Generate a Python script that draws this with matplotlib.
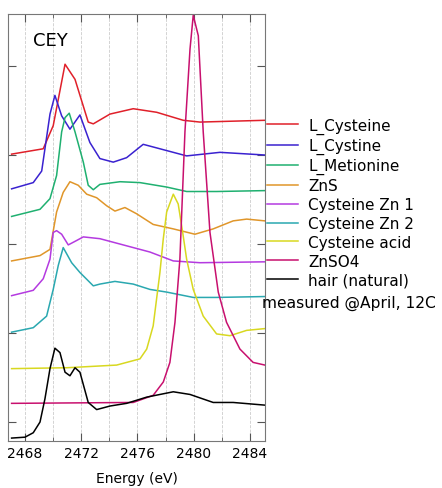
import matplotlib
matplotlib.use("Agg")
import matplotlib.pyplot as plt
from matplotlib.ticker import MultipleLocator

plt.rcParams['font.family'] = ['DejaVu Sans']

# energies (eV) and offset intensities
cys_e = [2467.05, 2469.30, 2470.01, 2470.85, 2471.56, 2472.50, 2472.86, 2474.05, 2475.70, 2477.37, 2479.26, 2480.45, 2485.07]
cys_y = [3.01, 3.07, 3.33, 4.02, 3.85, 3.37, 3.35, 3.46, 3.52, 3.48, 3.39, 3.37, 3.39]

cyst_e = [2467.05, 2468.59, 2469.19, 2469.78, 2470.13, 2470.61, 2471.20, 2471.91, 2472.62, 2473.33, 2474.28, 2475.23, 2476.41, 2477.60, 2479.50, 2481.87, 2485.07]
cyst_y = [2.62, 2.69, 2.82, 3.46, 3.67, 3.44, 3.29, 3.45, 3.14, 2.96, 2.92, 2.97, 3.12, 3.07, 2.99, 3.03, 3.00]

met_e = [2467.05, 2469.07, 2469.78, 2470.25, 2470.61, 2470.85, 2471.15, 2471.56, 2472.15, 2472.50, 2472.86, 2473.33, 2474.76, 2476.18, 2478.08, 2479.50, 2481.63, 2485.07]
met_y = [2.31, 2.39, 2.51, 2.77, 3.26, 3.42, 3.47, 3.26, 2.92, 2.66, 2.61, 2.67, 2.70, 2.69, 2.64, 2.59, 2.59, 2.60]

zns_e = [2467.05, 2469.07, 2469.78, 2470.25, 2470.72, 2471.20, 2471.79, 2472.39, 2473.10, 2473.81, 2474.40, 2475.11, 2475.94, 2477.12, 2478.55, 2480.09, 2481.39, 2482.81, 2483.77, 2485.07]
zns_y = [1.81, 1.87, 1.94, 2.36, 2.58, 2.70, 2.66, 2.56, 2.52, 2.43, 2.37, 2.41, 2.34, 2.22, 2.17, 2.11, 2.17, 2.26, 2.28, 2.26]

zn1_e = [2467.05, 2468.59, 2469.30, 2469.78, 2470.01, 2470.25, 2470.61, 2471.08, 2471.68, 2472.15, 2473.33, 2475.70, 2476.89, 2478.55, 2480.45, 2485.07]
zn1_y = [1.42, 1.48, 1.61, 1.83, 2.13, 2.15, 2.11, 1.99, 2.04, 2.08, 2.06, 1.96, 1.91, 1.81, 1.79, 1.80]

zn2_e = [2467.05, 2468.59, 2469.54, 2470.01, 2470.37, 2470.72, 2471.32, 2471.91, 2472.86, 2473.33, 2474.40, 2475.70, 2476.89, 2478.08, 2479.97, 2481.63, 2485.07]
zn2_y = [1.01, 1.06, 1.19, 1.49, 1.76, 1.96, 1.79, 1.68, 1.53, 1.55, 1.58, 1.55, 1.49, 1.46, 1.40, 1.40, 1.41]

acid_e = [2467.05, 2470.97, 2474.52, 2476.18, 2476.66, 2477.12, 2477.60, 2477.84, 2478.08, 2478.55, 2478.90, 2479.22, 2479.50, 2479.97, 2480.68, 2481.63, 2482.58, 2483.77, 2485.07]
acid_y = [0.60, 0.61, 0.64, 0.71, 0.82, 1.08, 1.68, 2.06, 2.36, 2.56, 2.45, 2.13, 1.83, 1.49, 1.19, 0.99, 0.97, 1.03, 1.05]

znso4_e = [2467.05, 2475.70, 2477.12, 2477.84, 2478.31, 2478.67, 2479.02, 2479.38, 2479.74, 2479.97, 2480.33, 2480.68, 2481.16, 2481.75, 2482.34, 2483.29, 2484.23, 2485.07]
znso4_y = [0.21, 0.22, 0.30, 0.45, 0.67, 1.12, 1.83, 3.26, 4.19, 4.57, 4.34, 3.26, 2.13, 1.46, 1.12, 0.82, 0.67, 0.64]

hair_e = [2467.05, 2468.00, 2468.59, 2469.07, 2469.42, 2469.78, 2470.13, 2470.49, 2470.85, 2471.20, 2471.56, 2471.91, 2472.50, 2473.10, 2474.05, 2475.23, 2476.66, 2478.55, 2479.74, 2481.39, 2482.81, 2485.07]
hair_y = [-0.18, -0.17, -0.12, 0.00, 0.26, 0.60, 0.83, 0.78, 0.56, 0.52, 0.61, 0.56, 0.22, 0.14, 0.18, 0.21, 0.28, 0.34, 0.31, 0.22, 0.22, 0.19]

series = [
    ('L_Cysteine', cys_e, cys_y, '#e0202a'),
    ('L_Cystine', cyst_e, cyst_y, '#3a22d0'),
    ('L_Metionine', met_e, met_y, '#1fb070'),
    ('ZnS', zns_e, zns_y, '#e0962a'),
    ('Cysteine Zn 1', zn1_e, zn1_y, '#b43ae0'),
    ('Cysteine Zn 2', zn2_e, zn2_y, '#2aa8b0'),
    ('Cysteine acid', acid_e, acid_y, '#d8d820'),
    ('ZnSO4', znso4_e, znso4_y, '#c8106e'),
    ('hair (natural)', hair_e, hair_y, '#000000'),
]

fig = plt.figure(figsize=(4.42, 4.89), dpi=100)
ax = fig.add_axes([0.018, 0.0961, 0.5814, 0.8732])

for name, e, y, c in series:
    ax.plot(e, y, color=c, lw=1.1, label=name)

ax.set_xlim(2466.79, 2485.07)
ax.set_ylim(-0.213, 4.584)
ax.xaxis.set_major_locator(MultipleLocator(4))
ax.xaxis.set_minor_locator(MultipleLocator(2))
ax.yaxis.set_major_locator(MultipleLocator(1))
ax.set_yticklabels([])
ax.grid(True, axis='x', which='both', linestyle='--', color='#cccccc', lw=0.6)
ax.tick_params(which='both', direction='in', top=True, right=True, color='#555555', labelsize=10)
ax.tick_params(which='major', length=6)
ax.tick_params(which='minor', length=3)
for s in ax.spines.values():
    s.set_color('#777777')

ax.set_xlabel('Energy (eV)', fontsize=10, labelpad=8)
ax.text(0.097, 0.938, 'CEY', transform=ax.transAxes, fontsize=13, va='center')

fig.legend(loc='upper left', bbox_to_anchor=(0.604, 0.757), frameon=False, fontsize=11,
           handlelength=2.0, handletextpad=0.7, labelspacing=0.255, borderpad=0, borderaxespad=0)
fig.text(0.593, 0.380, 'measured @April, 12C', fontsize=11.2, va='center')

fig.savefig('out.png', dpi=100)
